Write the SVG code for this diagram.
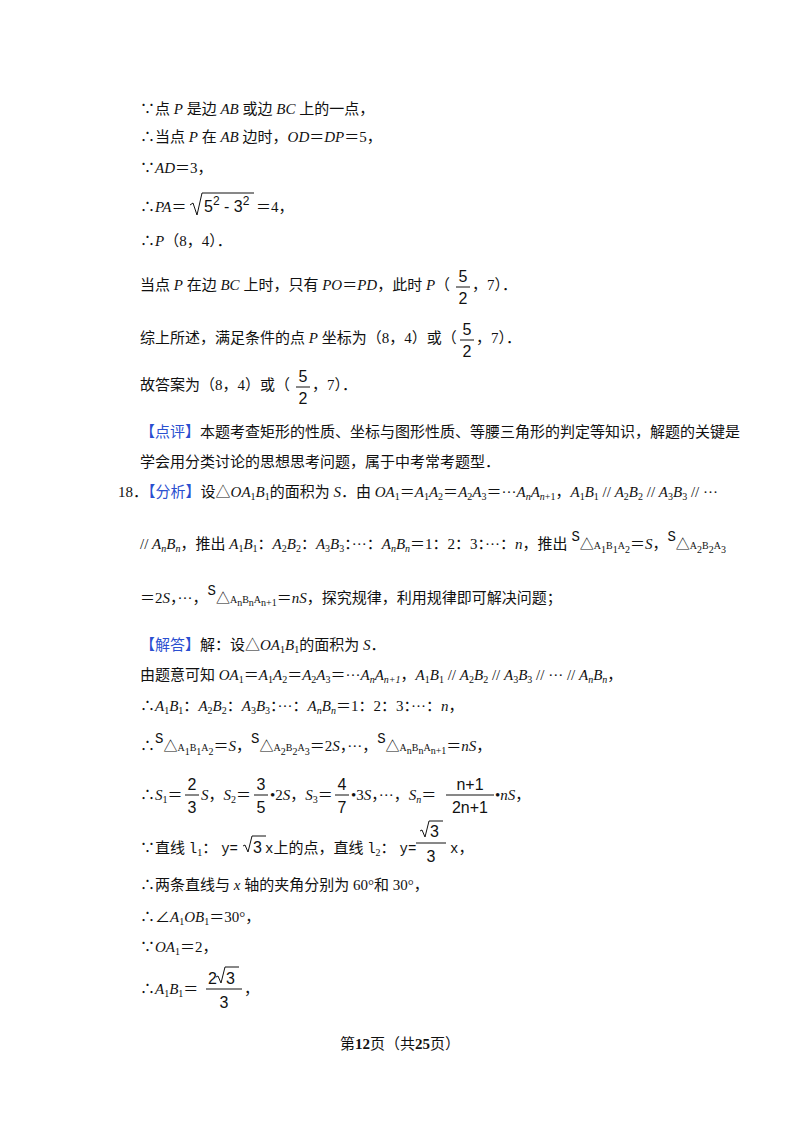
<svg xmlns="http://www.w3.org/2000/svg" width="800" height="1132" viewBox="0 0 800 1132">
<style>
text{font-family:"Liberation Serif","Noto Sans CJK SC",serif;font-size:15px;fill:#111}
.i{font-style:italic}
.b{fill:#2a4fd0}
.s{font-size:10px}
.m{font-family:"Liberation Mono","Noto Sans CJK SC",monospace;font-size:14px}
.f{font-family:"Liberation Sans",sans-serif;font-size:16px}
</style>
<rect width="800" height="1132" fill="#fff"/>
<g id="text">
<text x="140" y="114">∵点 <tspan class="i">P</tspan> 是边 <tspan class="i">AB</tspan> 或边 <tspan class="i">BC</tspan> 上的一点，</text>
<text x="140" y="142">∴当点 <tspan class="i">P</tspan> 在 <tspan class="i">AB</tspan> 边时，<tspan class="i">OD</tspan>＝<tspan class="i">DP</tspan>＝5，</text>
<text x="140" y="173">∵<tspan class="i">AD</tspan>＝3，</text>
<text x="140" y="212">∴<tspan class="i">PA</tspan>＝</text>
<path d="M190 205 l3 -2 l4 12 l5 -22 h52" fill="none" stroke="#111" stroke-width="1"/>
<text x="204" y="212" class="f">5<tspan dy="-7" font-size="12">2</tspan><tspan dy="7"> - 3</tspan><tspan dy="-7" font-size="12">2</tspan></text>
<text x="256" y="212">＝4，</text>
<text x="140" y="246">∴<tspan class="i">P</tspan>（8，4）．</text>
<text x="140" y="290">当点 <tspan class="i">P</tspan> 在边 <tspan class="i">BC</tspan> 上时，只有 <tspan class="i">PO</tspan>＝<tspan class="i">PD</tspan>，此时 <tspan class="i">P</tspan>（</text>
<text x="463" y="282" class="f" text-anchor="middle">5</text><line x1="456" y1="287" x2="470" y2="287" stroke="#111"/><text x="463" y="304" class="f" text-anchor="middle">2</text>
<text x="472" y="290">，7）．</text>
<text x="140" y="343">综上所述，满足条件的点 <tspan class="i">P</tspan> 坐标为（8，4）或（</text>
<text x="467" y="335" class="f" text-anchor="middle">5</text><line x1="460" y1="340" x2="474" y2="340" stroke="#111"/><text x="467" y="357" class="f" text-anchor="middle">2</text>
<text x="476" y="343">，7）．</text>
<text x="140" y="390">故答案为（8，4）或（</text>
<text x="303" y="382" class="f" text-anchor="middle">5</text><line x1="296" y1="387" x2="310" y2="387" stroke="#111"/><text x="303" y="404" class="f" text-anchor="middle">2</text>
<text x="312" y="390">，7）．</text>
<text x="140" y="437"><tspan class="b">【点评】</tspan>本题考查矩形的性质、坐标与图形性质、等腰三角形的判定等知识，解题的关键是</text>
<text x="140" y="467">学会用分类讨论的思想思考问题，属于中考常考题型．</text>
<text x="118" y="497">18．<tspan class="b">【分析】</tspan>设△<tspan class="i">OA</tspan><tspan class="s" dy="3">1</tspan><tspan class="i" dy="-3">B</tspan><tspan class="s" dy="3">1</tspan><tspan dy="-3">的面积为 </tspan><tspan class="i">S</tspan>．由 <tspan class="i">OA</tspan><tspan class="s" dy="3">1</tspan><tspan dy="-3">＝</tspan><tspan class="i">A</tspan><tspan class="s" dy="3">1</tspan><tspan class="i" dy="-3">A</tspan><tspan class="s" dy="3">2</tspan><tspan dy="-3">＝</tspan><tspan class="i">A</tspan><tspan class="s" dy="3">2</tspan><tspan class="i" dy="-3">A</tspan><tspan class="s" dy="3">3</tspan><tspan dy="-3">＝···</tspan><tspan class="i">A<tspan class="s" dy="3">n</tspan><tspan dy="-3">A</tspan><tspan class="s" dy="3">n</tspan></tspan><tspan class="s">+1</tspan><tspan dy="-3">，</tspan><tspan class="i">A</tspan><tspan class="s" dy="3">1</tspan><tspan class="i" dy="-3">B</tspan><tspan class="s" dy="3">1</tspan><tspan dy="-3"> // </tspan><tspan class="i">A</tspan><tspan class="s" dy="3">2</tspan><tspan class="i" dy="-3">B</tspan><tspan class="s" dy="3">2</tspan><tspan dy="-3"> // </tspan><tspan class="i">A</tspan><tspan class="s" dy="3">3</tspan><tspan class="i" dy="-3">B</tspan><tspan class="s" dy="3">3</tspan><tspan dy="-3"> // ···</tspan></text>
<text x="140" y="549">// <tspan class="i">A</tspan><tspan class="s i" dy="3">n</tspan><tspan class="i" dy="-3">B</tspan><tspan class="s i" dy="3">n</tspan><tspan dy="-3">，推出 </tspan><tspan class="i">A</tspan><tspan class="s" dy="3">1</tspan><tspan class="i" dy="-3">B</tspan><tspan class="s" dy="3">1</tspan><tspan dy="-3">：</tspan><tspan class="i">A</tspan><tspan class="s" dy="3">2</tspan><tspan class="i" dy="-3">B</tspan><tspan class="s" dy="3">2</tspan><tspan dy="-3">：</tspan><tspan class="i">A</tspan><tspan class="s" dy="3">3</tspan><tspan class="i" dy="-3">B</tspan><tspan class="s" dy="3">3</tspan><tspan dy="-3">：···：</tspan><tspan class="i">A</tspan><tspan class="s i" dy="3">n</tspan><tspan class="i" dy="-3">B</tspan><tspan class="s i" dy="3">n</tspan><tspan dy="-3">＝1：2：3：···：</tspan><tspan class="i">n</tspan>，推出 <tspan class="m" dy="-8">S</tspan><tspan class="m" dy="8">△</tspan><tspan class="s">A</tspan><tspan class="s" dy="4">1</tspan><tspan class="s" dy="-4">B</tspan><tspan class="s" dy="4">1</tspan><tspan class="s" dy="-4">A</tspan><tspan class="s" dy="4">2</tspan><tspan dy="-4">＝</tspan><tspan class="i">S</tspan>，<tspan class="m" dy="-8">S</tspan><tspan class="m" dy="8">△</tspan><tspan class="s">A</tspan><tspan class="s" dy="4">2</tspan><tspan class="s" dy="-4">B</tspan><tspan class="s" dy="4">2</tspan><tspan class="s" dy="-4">A</tspan><tspan class="s" dy="4">3</tspan></text>
<text x="140" y="603">＝2<tspan class="i">S</tspan>，···，<tspan class="m" dy="-8">S</tspan><tspan class="m" dy="8">△</tspan><tspan class="s">A</tspan><tspan class="s" dy="3">n</tspan><tspan class="s" dy="-3">B</tspan><tspan class="s" dy="3">n</tspan><tspan class="s" dy="-3">A</tspan><tspan class="s" dy="3">n+1</tspan><tspan dy="-3">＝</tspan><tspan class="i">nS</tspan>，探究规律，利用规律即可解决问题；</text>
<text x="140" y="650"><tspan class="b">【解答】</tspan>解：设△<tspan class="i">OA</tspan><tspan class="s" dy="3">1</tspan><tspan class="i" dy="-3">B</tspan><tspan class="s" dy="3">1</tspan><tspan dy="-3">的面积为 </tspan><tspan class="i">S</tspan>．</text>
<text x="140" y="680">由题意可知 <tspan class="i">OA</tspan><tspan class="s" dy="3">1</tspan><tspan dy="-3">＝</tspan><tspan class="i">A</tspan><tspan class="s" dy="3">1</tspan><tspan class="i" dy="-3">A</tspan><tspan class="s" dy="3">2</tspan><tspan dy="-3">＝</tspan><tspan class="i">A</tspan><tspan class="s" dy="3">2</tspan><tspan class="i" dy="-3">A</tspan><tspan class="s" dy="3">3</tspan><tspan dy="-3">＝···</tspan><tspan class="i">A</tspan><tspan class="s i" dy="3">n</tspan><tspan class="i" dy="-3">A</tspan><tspan class="s i" dy="3">n+1</tspan><tspan dy="-3">，</tspan><tspan class="i">A</tspan><tspan class="s" dy="3">1</tspan><tspan class="i" dy="-3">B</tspan><tspan class="s" dy="3">1</tspan><tspan dy="-3"> // </tspan><tspan class="i">A</tspan><tspan class="s" dy="3">2</tspan><tspan class="i" dy="-3">B</tspan><tspan class="s" dy="3">2</tspan><tspan dy="-3"> // </tspan><tspan class="i">A</tspan><tspan class="s" dy="3">3</tspan><tspan class="i" dy="-3">B</tspan><tspan class="s" dy="3">3</tspan><tspan dy="-3"> // ··· // </tspan><tspan class="i">A</tspan><tspan class="s i" dy="3">n</tspan><tspan class="i" dy="-3">B</tspan><tspan class="s i" dy="3">n</tspan><tspan dy="-3">，</tspan></text>
<text x="140" y="711">∴<tspan class="i">A</tspan><tspan class="s" dy="3">1</tspan><tspan class="i" dy="-3">B</tspan><tspan class="s" dy="3">1</tspan><tspan dy="-3">：</tspan><tspan class="i">A</tspan><tspan class="s" dy="3">2</tspan><tspan class="i" dy="-3">B</tspan><tspan class="s" dy="3">2</tspan><tspan dy="-3">：</tspan><tspan class="i">A</tspan><tspan class="s" dy="3">3</tspan><tspan class="i" dy="-3">B</tspan><tspan class="s" dy="3">3</tspan><tspan dy="-3">：···：</tspan><tspan class="i">A</tspan><tspan class="s i" dy="3">n</tspan><tspan class="i" dy="-3">B</tspan><tspan class="s i" dy="3">n</tspan><tspan dy="-3">＝1：2：3：···：</tspan><tspan class="i">n</tspan>，</text>
<text x="140" y="751">∴<tspan class="m" dy="-8">S</tspan><tspan class="m" dy="8">△</tspan><tspan class="s">A</tspan><tspan class="s" dy="4">1</tspan><tspan class="s" dy="-4">B</tspan><tspan class="s" dy="4">1</tspan><tspan class="s" dy="-4">A</tspan><tspan class="s" dy="4">2</tspan><tspan dy="-4">＝</tspan><tspan class="i">S</tspan>，<tspan class="m" dy="-8">S</tspan><tspan class="m" dy="8">△</tspan><tspan class="s">A</tspan><tspan class="s" dy="4">2</tspan><tspan class="s" dy="-4">B</tspan><tspan class="s" dy="4">2</tspan><tspan class="s" dy="-4">A</tspan><tspan class="s" dy="4">3</tspan><tspan dy="-4">＝2</tspan><tspan class="i">S</tspan>，···，<tspan class="m" dy="-8">S</tspan><tspan class="m" dy="8">△</tspan><tspan class="s">A</tspan><tspan class="s" dy="3">n</tspan><tspan class="s" dy="-3">B</tspan><tspan class="s" dy="3">n</tspan><tspan class="s" dy="-3">A</tspan><tspan class="s" dy="3">n+1</tspan><tspan dy="-3">＝</tspan><tspan class="i">nS</tspan>，</text>
<text x="140" y="800">∴<tspan class="i">S</tspan><tspan class="s" dy="3">1</tspan><tspan dy="-3">＝</tspan></text>
<text x="192" y="790" class="f" text-anchor="middle">2</text><line x1="185" y1="795" x2="199" y2="795" stroke="#111"/><text x="192" y="813" class="f" text-anchor="middle">3</text>
<text x="201" y="800"><tspan class="i">S</tspan>，<tspan class="i">S</tspan><tspan class="s" dy="3">2</tspan><tspan dy="-3">＝</tspan></text>
<text x="261" y="790" class="f" text-anchor="middle">3</text><line x1="254" y1="795" x2="268" y2="795" stroke="#111"/><text x="261" y="813" class="f" text-anchor="middle">5</text>
<text x="270" y="800">•2<tspan class="i">S</tspan>，<tspan class="i">S</tspan><tspan class="s" dy="3">3</tspan><tspan dy="-3">＝</tspan></text>
<text x="342" y="790" class="f" text-anchor="middle">4</text><line x1="335" y1="795" x2="349" y2="795" stroke="#111"/><text x="342" y="813" class="f" text-anchor="middle">7</text>
<text x="351" y="800">•3<tspan class="i">S</tspan>，···，<tspan class="i">S</tspan><tspan class="s i" dy="3">n</tspan><tspan dy="-3">＝</tspan></text>
<text x="470" y="790" class="f" text-anchor="middle">n+1</text><line x1="446" y1="795" x2="494" y2="795" stroke="#111"/><text x="470" y="813" class="f" text-anchor="middle">2n+1</text>
<text x="495" y="800">•<tspan class="i">nS</tspan>，</text>
<text x="140" y="853">∵直线 <tspan class="m" font-size="17">l</tspan><tspan class="s" dy="3">1</tspan><tspan dy="-3">：</tspan><tspan class="m" font-size="12" dx="4">y=</tspan></text>
<path d="M243 846 l2 -1 l3 7 l4 -16 h14" fill="none" stroke="#111" stroke-width="1"/>
<text x="253" y="853" class="f">3</text>
<text x="265" y="853"><tspan class="m" font-size="12">x</tspan>上的点，直线 <tspan class="m" font-size="17">l</tspan><tspan class="s" dy="3">2</tspan><tspan dy="-3">：</tspan><tspan class="m" font-size="12" dx="4">y=</tspan></text>
<path d="M420 831 l2 -1 l3 7 l4 -16 h14" fill="none" stroke="#111" stroke-width="1"/>
<text x="430" y="837" class="f">3</text>
<line x1="416" y1="843" x2="446" y2="843" stroke="#111"/><text x="431" y="862" class="f" text-anchor="middle">3</text>
<text x="450" y="853"><tspan class="m" font-size="12">x</tspan>，</text>
<text x="140" y="890">∴两条直线与 <tspan class="i">x</tspan> 轴的夹角分别为 60°和 30°，</text>
<text x="140" y="922">∴∠<tspan class="i">A</tspan><tspan class="s" dy="3">1</tspan><tspan class="i" dy="-3">OB</tspan><tspan class="s" dy="3">1</tspan><tspan dy="-3">＝30°，</tspan></text>
<text x="140" y="952">∵<tspan class="i">OA</tspan><tspan class="s" dy="3">1</tspan><tspan dy="-3">＝2，</tspan></text>
<text x="140" y="994">∴<tspan class="i">A</tspan><tspan class="s" dy="3">1</tspan><tspan class="i" dy="-3">B</tspan><tspan class="s" dy="3">1</tspan><tspan dy="-3">＝</tspan></text>
<text x="208" y="984" class="f">2</text>
<path d="M216 977 l2 -1 l3 7 l4 -16 h14" fill="none" stroke="#111" stroke-width="1"/>
<text x="226" y="984" class="f">3</text>
<line x1="206" y1="989" x2="242" y2="989" stroke="#111"/><text x="224" y="1008" class="f" text-anchor="middle">3</text>
<text x="244" y="994">，</text>
<text x="400" y="1049" text-anchor="middle" font-size="13">第<tspan font-weight="bold">12</tspan>页（共<tspan font-weight="bold">25</tspan>页）</text>
</g>
</svg>
